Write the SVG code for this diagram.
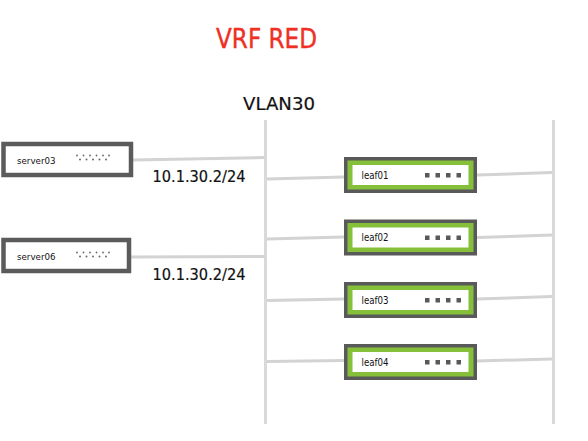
<svg xmlns="http://www.w3.org/2000/svg" width="588" height="441" viewBox="0 0 588 441">
<style>
.bg{fill:#ffffff}
.wire{stroke:#d3d3d3;stroke-width:3;fill:none;stroke-linecap:butt}
.bus{stroke:#d9d9d9;stroke-width:3;fill:none}
.srv{fill:#ffffff;stroke:#5b5b5b;stroke-width:4.5}
.lo{fill:#595959}
.lg{fill:#86bf3a}
.lw{fill:#ffffff}
.sq{fill:#595959}
.dot{fill:#6a6a6a}
.t{font-family:"DejaVu Sans","Liberation Sans",sans-serif;fill:#111}
.hv{stroke:#111;stroke-width:0.2}
.sm{font-size:9.5px}
.lf{font-size:10px}
.ip{font-size:15.5px}
</style>
<rect class="bg" x="0" y="0" width="588" height="441"/>
<text class="t" x="216" y="48" font-size="27" style="fill:#ee3124;stroke:#ee3124;stroke-width:0.4" textLength="101" lengthAdjust="spacingAndGlyphs">VRF RED</text>
<text class="t hv" x="243" y="110" font-size="18" textLength="72" lengthAdjust="spacingAndGlyphs">VLAN30</text>
<g id="connectors">
<line class="bus" x1="265.5" y1="120" x2="265.5" y2="424"/>
<line class="bus" x1="553.5" y1="120" x2="553.5" y2="424"/>
<line class="wire" x1="133" y1="160" x2="265" y2="157.5"/>
<line class="wire" x1="131" y1="257" x2="265" y2="256.5"/>
<line class="wire" x1="267" y1="179" x2="344" y2="177"/>
<line class="wire" x1="267" y1="239" x2="344" y2="237"/>
<line class="wire" x1="267" y1="300.5" x2="344" y2="299"/>
<line class="wire" x1="267" y1="361.5" x2="344" y2="360.5"/>
<line class="wire" x1="477" y1="175" x2="552" y2="172.5"/>
<line class="wire" x1="477" y1="237.5" x2="552" y2="235"/>
<line class="wire" x1="477" y1="299" x2="552" y2="296.5"/>
<line class="wire" x1="477" y1="361" x2="552" y2="359"/>
</g>
<text class="t ip hv" x="152.5" y="182" textLength="93" lengthAdjust="spacingAndGlyphs">10.1.30.2/24</text>
<text class="t ip hv" x="152.5" y="280" textLength="93" lengthAdjust="spacingAndGlyphs">10.1.30.2/24</text>
<g id="server03">
<rect class="srv" x="3.5" y="144" width="127.5" height="31"/>
<text class="t sm" x="17" y="163.5" textLength="38.5" lengthAdjust="spacingAndGlyphs">server03</text>
<g class="dot">
<circle cx="77" cy="155.5" r="0.9"/><circle cx="83.5" cy="155.5" r="0.9"/><circle cx="90" cy="155.5" r="0.9"/><circle cx="96.5" cy="155.5" r="0.9"/><circle cx="103" cy="155.5" r="0.9"/><circle cx="109" cy="155.5" r="0.9"/>
<circle cx="80" cy="159.5" r="1"/><circle cx="86.5" cy="159.5" r="1"/><circle cx="93" cy="159.5" r="1"/><circle cx="99.5" cy="159.5" r="1"/><circle cx="106" cy="159.5" r="1"/>
</g>
</g>
<g id="server06">
<rect class="srv" x="3.5" y="240" width="125.5" height="31"/>
<text class="t sm" x="17" y="260" textLength="38.5" lengthAdjust="spacingAndGlyphs">server06</text>
<g class="dot">
<circle cx="77" cy="252.5" r="0.9"/><circle cx="83.5" cy="252.5" r="0.9"/><circle cx="90" cy="252.5" r="0.9"/><circle cx="96.5" cy="252.5" r="0.9"/><circle cx="103" cy="252.5" r="0.9"/><circle cx="109" cy="252.5" r="0.9"/>
<circle cx="80" cy="256.5" r="1"/><circle cx="86.5" cy="256.5" r="1"/><circle cx="93" cy="256.5" r="1"/><circle cx="99.5" cy="256.5" r="1"/><circle cx="106" cy="256.5" r="1"/>
</g>
</g>
<g id="leaf01">
<rect class="lo" x="344" y="157" width="133" height="36"/>
<rect class="lg" x="347.5" y="160.5" width="126" height="29"/>
<rect class="lw" x="352.5" y="165" width="116" height="20"/>
<text class="t lf" x="361.5" y="178.5" textLength="27" lengthAdjust="spacingAndGlyphs">leaf01</text>
<rect class="sq" x="425" y="173" width="4.5" height="4.5"/><rect class="sq" x="435.5" y="173" width="4.5" height="4.5"/><rect class="sq" x="446" y="173" width="4.5" height="4.5"/><rect class="sq" x="456.5" y="173" width="4.5" height="4.5"/>
</g>
<g id="leaf02">
<rect class="lo" x="344" y="219.5" width="133" height="36"/>
<rect class="lg" x="347.5" y="223" width="126" height="29"/>
<rect class="lw" x="352.5" y="227.5" width="116" height="20"/>
<text class="t lf" x="361.5" y="241" textLength="27" lengthAdjust="spacingAndGlyphs">leaf02</text>
<rect class="sq" x="425" y="235.5" width="4.5" height="4.5"/><rect class="sq" x="435.5" y="235.5" width="4.5" height="4.5"/><rect class="sq" x="446" y="235.5" width="4.5" height="4.5"/><rect class="sq" x="456.5" y="235.5" width="4.5" height="4.5"/>
</g>
<g id="leaf03">
<rect class="lo" x="344" y="282" width="133" height="36"/>
<rect class="lg" x="347.5" y="285.5" width="126" height="29"/>
<rect class="lw" x="352.5" y="290" width="116" height="20"/>
<text class="t lf" x="361.5" y="303.5" textLength="27" lengthAdjust="spacingAndGlyphs">leaf03</text>
<rect class="sq" x="425" y="298" width="4.5" height="4.5"/><rect class="sq" x="435.5" y="298" width="4.5" height="4.5"/><rect class="sq" x="446" y="298" width="4.5" height="4.5"/><rect class="sq" x="456.5" y="298" width="4.5" height="4.5"/>
</g>
<g id="leaf04">
<rect class="lo" x="344" y="344" width="133" height="36"/>
<rect class="lg" x="347.5" y="347.5" width="126" height="29"/>
<rect class="lw" x="352.5" y="352" width="116" height="20"/>
<text class="t lf" x="361.5" y="365.5" textLength="27" lengthAdjust="spacingAndGlyphs">leaf04</text>
<rect class="sq" x="425" y="360" width="4.5" height="4.5"/><rect class="sq" x="435.5" y="360" width="4.5" height="4.5"/><rect class="sq" x="446" y="360" width="4.5" height="4.5"/><rect class="sq" x="456.5" y="360" width="4.5" height="4.5"/>
</g>
</svg>
